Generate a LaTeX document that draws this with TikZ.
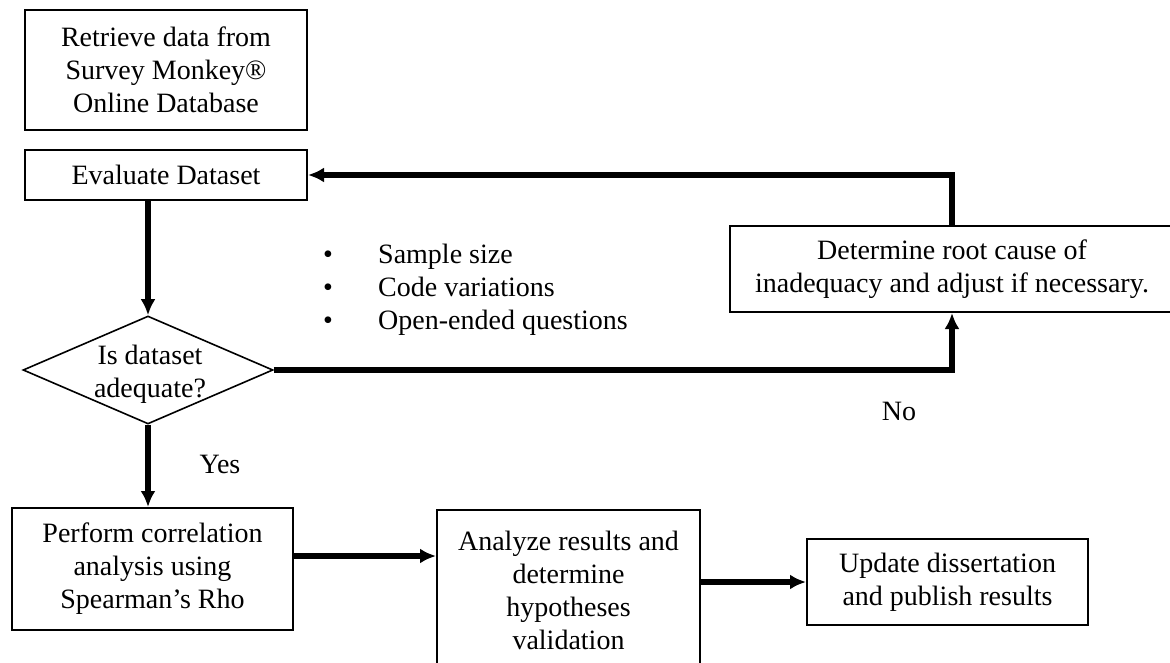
\documentclass[tikz,border=0pt]{standalone}
\usepackage{fontspec}
\setmainfont{Liberation Serif}
\usetikzlibrary{arrows.meta,shapes.geometric}
\begin{document}
\begin{tikzpicture}[x=1pt,y=-1pt,
  every node/.style={font=\fontsize{28}{33}\selectfont},
  box/.style={draw,line width=2pt,align=center,inner sep=0pt},
  dec/.style={draw,line width=1.6pt,shape=diamond,aspect=2.3,inner sep=0pt,minimum width=250pt,minimum height=108pt},
  arr/.style={line width=5.5pt,-{Latex[length=16pt,width=15pt]}},
  lbl/.style={inner sep=0pt}
]
\useasboundingbox (0,0) rectangle (1170,663);
\node[box,minimum width=282pt,minimum height=120pt] (b1) at (166,70) {Retrieve data from\\Survey Monkey®\\Online Database};
\node[box,minimum width=282pt,minimum height=50pt] (b2) at (166,175) {Evaluate Dataset};
\node[dec] (d) at (148,370) {};
\node[lbl,align=center] (dt) at (150,374) {Is dataset\\adequate?};
\node[box,minimum width=444pt,minimum height=86pt] (b3) at (952,269) {Determine root cause of\\inadequacy and adjust if necessary.};
\node[box,minimum width=281pt,minimum height=122pt] (b4) at (152.5,569) {Perform correlation\\analysis using\\Spearman’s Rho};
\node[box,minimum width=263pt,minimum height=160pt] (b5) at (568.5,590) {Analyze results and\\determine\\hypotheses\\validation};
\node[box,minimum width=281pt,minimum height=86pt] (b6) at (947.5,582) {Update dissertation\\and publish results};

\node[lbl,anchor=base west] (s1) at (378,263) {Sample size};
\node[lbl,anchor=base west] (s2) at (378,296) {Code variations};
\node[lbl,anchor=base west] (s3) at (378,329) {Open-ended questions};
\node[lbl,anchor=base] (p1) at (328,263) {•};
\node[lbl,anchor=base] (p2) at (328,296) {•};
\node[lbl,anchor=base] (p3) at (328,329) {•};

\node[lbl] (yes) at (220,464) {Yes};
\node[lbl] (no) at (899,411) {No};

\draw[arr] (d.north |- b2.south) -- (d.north);
\draw[arr] (d.south) -- (d.south |- b4.north);
\draw[arr] (d.east) -| (b3.south);
\coordinate (t) at (952,175);
\draw[arr] (b3.north) -- (t) -- (b2.east);
\coordinate (q) at ([yshift=13pt]b4.east);
\draw[arr] (q) -- (q -| b5.west);
\draw[arr] (b6.west -| b5.east) -- (b6.west);
\end{tikzpicture}
\end{document}
